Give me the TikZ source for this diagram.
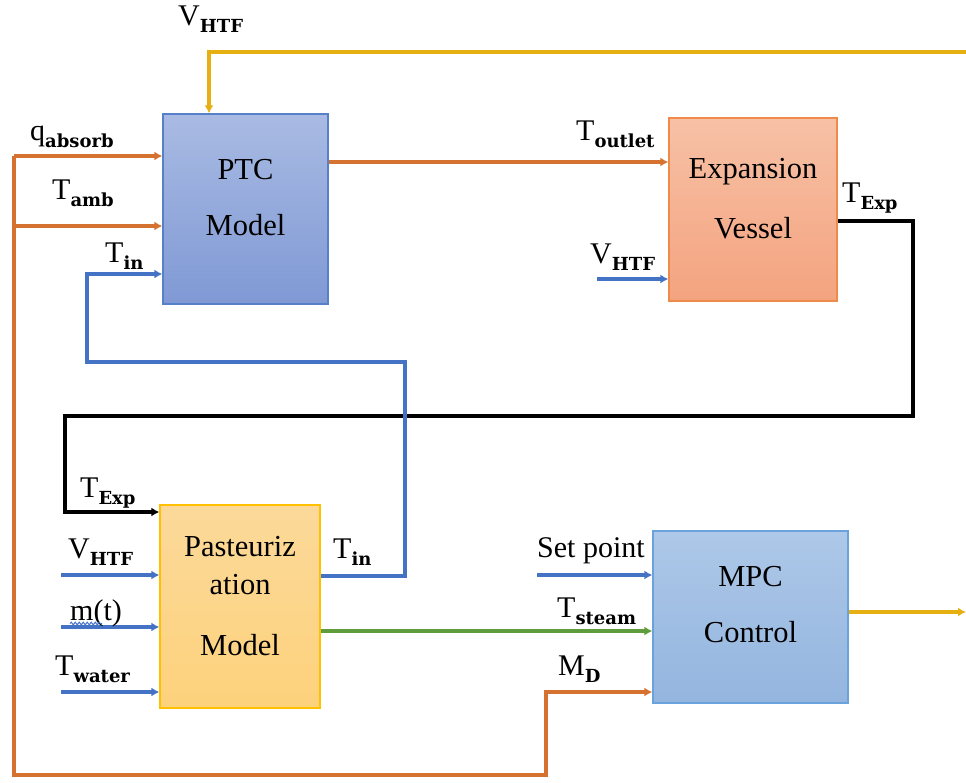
\documentclass[tikz,border=0pt]{standalone}
\usepackage{fontspec}
\setmainfont{Liberation Serif}
\newfontfamily\subfont{DejaVu Serif}
\usetikzlibrary{arrows.meta,decorations.pathmorphing}

% signal name with a bold, lowered subscript
\newcommand\sig[2]{#1\raisebox{-7pt}{\subfont\fontsize{18}{20}\selectfont\bfseries #2}}

\definecolor{wOrange}{HTML}{D6722F}
\definecolor{wBlue}{HTML}{4472C4}
\definecolor{wYellow}{HTML}{E6B012}
\definecolor{wGreen}{HTML}{5F9C3C}

\tikzset{
  blk/.style={draw, line width=1.3pt, inner sep=0pt},
  boxtext/.style={inner sep=0pt, font=\fontsize{30.5}{33}\selectfont},
  sigtext/.style={inner sep=0pt, anchor=base west, font=\fontsize{30}{33}\selectfont},
  tip/.style={-{Latex[length=8pt,width=9pt]}},
  worange/.style={draw=wOrange, line width=3.8pt},
  wblue/.style={draw=wBlue, line width=4.3pt},
  wyellow/.style={draw=wYellow, line width=4.5pt},
  wgreen/.style={draw=wGreen, line width=3.8pt},
  wblack/.style={draw=black, line width=4.5pt},
}

\begin{document}
\begin{tikzpicture}[x=1pt,y=-1pt]
\fill[white] (0,0) rectangle (966,782);
\useasboundingbox (0,0) rectangle (966,782);

% ---- blocks ----
\node[blk, draw=wBlue!90, top color={rgb,255:red,169;green,187;blue,227}, bottom color={rgb,255:red,128;green,153;blue,213},
      minimum width=165pt, minimum height=190pt] (ptc) at (245.5,209) {};
\node[blk, draw={rgb,255:red,238;green,138;blue,74}, top color={rgb,255:red,247;green,193;blue,166}, bottom color={rgb,255:red,244;green,163;blue,127},
      minimum width=168pt, minimum height=183pt] (exp) at (753,209.5) {};
\node[blk, draw={rgb,255:red,255;green,192;blue,0}, top color={rgb,255:red,252;green,217;blue,154}, bottom color={rgb,255:red,253;green,210;blue,124},
      minimum width=160pt, minimum height=203pt] (past) at (240,606.5) {};
\node[blk, draw={rgb,255:red,106;green,163;blue,220}, top color={rgb,255:red,173;green,200;blue,232}, bottom color={rgb,255:red,148;green,181;blue,223},
      minimum width=195pt, minimum height=172pt] (mpc) at (750.5,617) {};

% ---- block captions ----
\node[boxtext] (ptcA) at (245.5,170) {PTC};
\node[boxtext] (ptcB) at (245.5,225) {Model};
\node[boxtext] (expA) at (753,172) {Expansion};
\node[boxtext] (expB) at (753,228) {Vessel};
\node[boxtext] (pasA) at (240,547) {Pasteuriz};
\node[boxtext] (pasB) at (240,585) {ation};
\node[boxtext] (pasC) at (240,645) {Model};
\node[boxtext] (mpcA) at (750.5,577) {MPC};
\node[boxtext] (mpcB) at (750.5,632) {Control};

% ---- free ends of the signal lines ----
\coordinate (yR) at (966,52);
\coordinate (yC) at (209,52);
\coordinate (oTop) at (14,156);
\coordinate (oMid) at (14,226);
\coordinate (oBot) at (14,775);
\coordinate (oMD) at (546,775);
\coordinate (oMDu) at (546,692);
\coordinate (bTin1) at (87,274);
\coordinate (bTin2) at (87,362);
\coordinate (bTin3) at (405,362);
\coordinate (bTin4) at (405,576);
\coordinate (kA) at (913,221);
\coordinate (kB) at (913,416);
\coordinate (kC) at (65,416);
\coordinate (kD) at (65,512);
\coordinate (vExp) at (597,279);
\coordinate (vPas) at (61,575);
\coordinate (mPas) at (61,627);
\coordinate (wPas) at (61,692);
\coordinate (spIn) at (537,575);
\coordinate (mpcOut) at (966,612);

% ---- connectors ----
% HTF flow rate fed back to the collector
\draw[wyellow, tip] (yR) -- (yC) -- (yC |- ptc.north);
% solar input and ambient temperature, also routed to the controller
\draw[worange, tip] (oTop) -- (oTop -| ptc.west);
\draw[worange, tip] (oMid) -- (oMid -| ptc.west);
\draw[worange, tip] (oTop) -- (oBot) -- (oMD) -- (oMDu) -- (oMDu -| mpc.west);
% collector outlet to the expansion vessel
\draw[worange, tip] (ptc.east |- 0,162) -- (exp.west |- 0,162);
\draw[wblue, tip] (vExp) -- (vExp -| exp.west);
% expansion vessel temperature to the pasteurizer
\draw[wblack, tip] (exp.east |- kA) -- (kA) -- (kB) -- (kC) -- (kD) -- (kD -| past.west);
% pasteurizer return temperature back to the collector inlet
\draw[wblue, tip] (bTin4 -| past.east) -- (bTin4) -- (bTin3) -- (bTin2) -- (bTin1) -- (bTin1 -| ptc.west);
% pasteurizer inputs
\draw[wblue, tip] (vPas) -- (vPas -| past.west);
\draw[wblue, tip] (mPas) -- (mPas -| past.west);
\draw[wblue, tip] (wPas) -- (wPas -| past.west);
% controller
\draw[wblue, tip] (spIn) -- (spIn -| mpc.west);
\draw[wgreen, tip] (past.east |- 0,631) -- (mpc.west |- 0,631);
\draw[wyellow, line width=3.8pt, tip] (mpc.east |- mpcOut) -- (mpcOut);

% ---- signal names ----
\node[sigtext] (lV1) at (178,25) {\sig{V}{HTF}};
\node[sigtext] (lQ) at (30,140) {\sig{q}{absorb}};
\node[sigtext] (lTa) at (52,199) {\sig{T}{amb}};
\node[sigtext] (lTi1) at (105,262) {\sig{T}{in}};
\node[sigtext] (lTo) at (576,140) {\sig{T}{outlet}};
\node[sigtext] (lV2) at (590,263) {\sig{V}{HTF}};
\node[sigtext] (lTe1) at (842,202) {\sig{T}{Exp}};
\node[sigtext] (lTe2) at (80,497) {\sig{T}{Exp}};
\node[sigtext] (lV3) at (68,558) {\sig{V}{HTF}};
\node[sigtext] (lM) at (70,620) {m(t)};
\node[sigtext] (lTw) at (55,675) {\sig{T}{water}};
\node[sigtext] (lTi2) at (333,558) {\sig{T}{in}};
\node[sigtext] (lSp) at (537,557) {Set point};
\node[sigtext] (lTs) at (557,617) {\sig{T}{steam}};
\node[sigtext] (lMD) at (558,675) {\sig{M}{D}};

% wavy underline beneath m
\draw[wBlue, line width=1pt, decorate, decoration={snake, amplitude=1.3pt, segment length=4pt}]
  ([yshift=-3.5pt]lM.base west) -- ++(32,0);
\end{tikzpicture}
\end{document}
